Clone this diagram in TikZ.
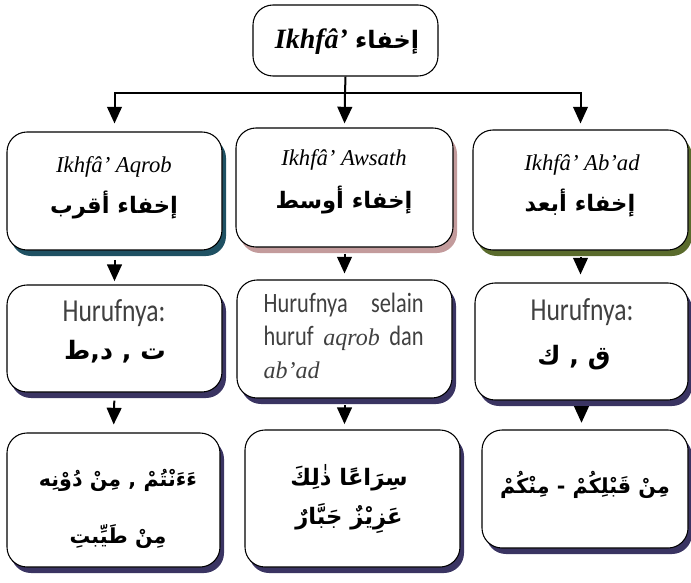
\documentclass[tikz,border=0pt]{standalone}
\usepackage{fontspec}
\setmainfont{Liberation Serif}
\newfontfamily\arabicfont[Script=Arabic]{DejaVu Sans}
\newfontfamily\hurfont[FakeStretch=0.8]{Carlito}
\usetikzlibrary{arrows.meta,shadows,fit}
\TeXXeTstate=1

\definecolor{tealshade}{HTML}{1F5163}
\definecolor{roseshade}{HTML}{C39B9C}
\definecolor{oliveshade}{HTML}{5A6B2C}
\definecolor{navyshade}{HTML}{3A3462}
\definecolor{hurgray}{HTML}{404040}

\newcommand{\arb}[1]{\arabicfont\upshape\bfseries\fontsize{#1}{#1}\selectfont}

\begin{document}
\begin{tikzpicture}[x=0.75pt,y=-0.75pt,
  box/.style={draw=black,line width=0.8pt,fill=white,rounded corners=15pt,inner sep=0pt},
  shade/.style={drop shadow={shadow xshift=3pt,shadow yshift=-4.5pt,fill=#1,opacity=1}},
  link/.style={line width=1.5pt},
  arr/.style={line width=1.5pt,-{Triangle[width=11pt,length=12.5pt]}},
  lat/.style={font=\itshape\fontsize{17}{20}\selectfont},
  hur/.style={font=\hurfont\fontsize{24}{28}\selectfont,text=hurgray}]
\useasboundingbox (0,0) rectangle (691,582);

% top
\node[box,fit={(253,5) (438,76)}] (ikhfa) {};
\node at (347,42) {\fontsize{21}{24}\selectfont\bfseries\itshape Ikhfâ’ {\arb{18}\beginR إخفاء\endR}};

% row 1
\node[box,shade=tealshade,fit={(7,132) (222,250)}] (aqrob) {};
\node[box,shade=roseshade,fit={(236,128) (453,247)}] (awsath) {};
\node[box,shade=oliveshade,fit={(473,130) (688,250)}] (abad) {};
\node[lat] (aqrobL) at (114,167) {Ikhfâ’ Aqrob};
\node (aqrobA) at (114,205) {\arb{17}\beginR إخفاء أقرب\endR};
\node[lat] (awsathL) at (344,160) {Ikhfâ’ Awsath};
\node (awsathA) at (344,200) {\arb{17}\beginR إخفاء أوسط\endR};
\node[lat] (abadL) at (582,165) {Ikhfâ’ Ab’ad};
\node (abadA) at (580,203) {\arb{17}\beginR إخفاء أبعد\endR};

% row 2
\node[box,shade=navyshade,fit={(7,285) (222,392)}] (hurA) {};
\node[box,shade=navyshade,fit={(237,280) (452,398)}] (hurW) {};
\node[box,shade=navyshade,fit={(475,283) (688,400)}] (hurB) {};
\node[hur] at (114,313) {Hurufnya:};
\node at (115,352) {\arb{19}\beginR ت , د,ط\endR};
\node[hur,font=\hurfont\fontsize{21}{25}\selectfont,text width=120pt,align=justify,anchor=north west] at (259,288)
  {Hurufnya selain huruf {\rmfamily\itshape\fontsize{18}{20}\selectfont aqrob} dan {\rmfamily\itshape\fontsize{18}{20}\selectfont ab’ad}};
\node[hur] at (582,312) {Hurufnya:};
\node at (574,358) {\arb{19}\beginR ق , ك\endR};

% row 3
\node[box,shade=navyshade,fit={(7,433) (220,567)}] (exA) {};
\node[box,shade=navyshade,fit={(245,430) (460,567)}] (exW) {};
\node[box,shade=navyshade,fit={(482,430) (688,548)}] (exB) {};
\node[align=center,font=\arb{15.5},inner sep=0pt] at (118,509)
  {\beginR ءَءَنْتُمْ , مِنْ دُوْنِه\endR\\[24pt] \beginR مِنْ طَيِّبتِ\endR};
\node[align=center,font=\arb{17},inner sep=0pt] at (349,499)
  {\beginR سِرَاعًا ذٰلِكَ\endR\\[8pt] \beginR عَزِيْزٌ جَبَّارٌ\endR};
\node[font=\arb{15.5}] at (585,485) {\beginR مِنْ قَبْلِكُمْ - مِنْكُمْ\endR};

% arrows
\coordinate (bus) at (345,93);
\draw[link] (ikhfa.south) -- (bus);
\draw[arr,shorten >=6pt] (bus) -| (aqrob.north);
\draw[arr,shorten >=3pt] (bus) -- (awsath.north);
\draw[arr,shorten >=4.5pt] (bus) -| (abad.north);
\draw[arr,shorten <=7pt,shorten >=2.5pt] (aqrob.south) -- (hurA.north);
\draw[arr,shorten <=4.5pt,shorten >=4.5pt] (awsath.south) -- (hurW.north);
\draw[arr,shorten <=5pt,shorten >=6pt] (abad.south) -- (abad.south |- hurB.north);
\draw[arr,shorten <=6pt,shorten >=6pt] (hurA.south) -- (exA.north);
\draw[arr,shorten <=5pt,shorten >=4pt] (hurW.south) -- (hurW.south |- exW.north);
\draw[arr,shorten <=4pt,shorten >=5pt] (hurB.south) -- (hurB.south |- exB.north);
\end{tikzpicture}
\end{document}
